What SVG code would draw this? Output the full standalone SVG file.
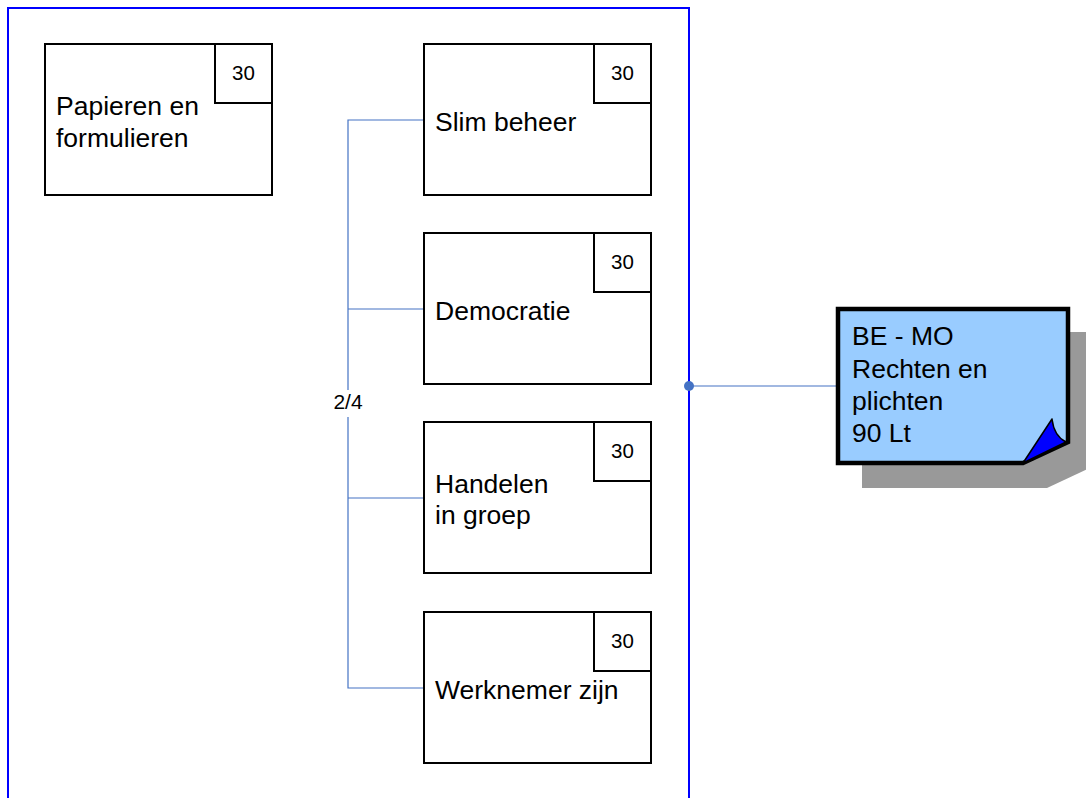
<svg xmlns="http://www.w3.org/2000/svg" width="1086" height="798" viewBox="0 0 1086 798">
<style>
.box{fill:#fff;stroke:#000;stroke-width:2}
.lbl{font-family:"Liberation Sans",Arial,sans-serif;font-size:26.5px;fill:#000}
.num{font-family:"Liberation Sans",Arial,sans-serif;font-size:20.5px;fill:#000;text-anchor:middle}
.conn{stroke:#4472C4;stroke-width:1.2;fill:none}
</style>
<rect width="1086" height="798" fill="#fff"/>
<g id="container">
<rect x="8" y="8" width="681" height="820" fill="none" stroke="#0000FF" stroke-width="2"/>
</g>
<g id="connectors">
<path class="conn" d="M424 120H348V688H424M348 309H424M348 498H424"/>
<rect x="330" y="390" width="36" height="27" fill="#fff"/>
<text x="348" y="409" class="num" style="font-size:21px">2/4</text>
<path class="conn" d="M689 386H838"/>
<circle cx="689" cy="386" r="5" fill="#4472C4"/>
</g>
<g id="n-papieren">
<rect class="box" x="45" y="44" width="227" height="151"/>
<rect class="box" x="215" y="44" width="57" height="59"/>
<text class="num" x="243.5" y="80">30</text>
<text class="lbl" x="56" y="115">Papieren en</text>
<text class="lbl" x="56" y="147">formulieren</text>
</g>
<g id="n-slim">
<rect class="box" x="424" y="44" width="227" height="151"/>
<rect class="box" x="594" y="44" width="57" height="59"/>
<text class="num" x="622.5" y="80">30</text>
<text class="lbl" x="435" y="131">Slim beheer</text>
</g>
<g id="n-democratie">
<rect class="box" x="424" y="233" width="227" height="151"/>
<rect class="box" x="594" y="233" width="57" height="59"/>
<text class="num" x="622.5" y="269">30</text>
<text class="lbl" x="435" y="320">Democratie</text>
</g>
<g id="n-handelen">
<rect class="box" x="424" y="422" width="227" height="151"/>
<rect class="box" x="594" y="422" width="57" height="59"/>
<text class="num" x="622.5" y="458">30</text>
<text class="lbl" x="435" y="493">Handelen</text>
<text class="lbl" x="435" y="524">in groep</text>
</g>
<g id="n-werknemer">
<rect class="box" x="424" y="612" width="227" height="151"/>
<rect class="box" x="594" y="612" width="57" height="59"/>
<text class="num" x="622.5" y="648">30</text>
<text class="lbl" x="435" y="699">Werknemer zijn</text>
</g>
<g id="n-note">
<path d="M862 332H1090V468L1047 488H862Z" fill="#999999"/>
<path d="M838 309H1068V442L1023 463H838Z" fill="#99CCFF" stroke="#000" stroke-width="4.5" stroke-linejoin="miter"/>
<path d="M1023 463L1052 419Q1054 436 1066 442Z" fill="#0000FF" stroke="#000" stroke-width="1.5" stroke-linejoin="round"/>
<text class="lbl" x="852" y="345">BE - MO</text>
<text class="lbl" x="852" y="378">Rechten en</text>
<text class="lbl" x="852" y="410">plichten</text>
<text class="lbl" x="852" y="442">90 Lt</text>
</g>
</svg>
